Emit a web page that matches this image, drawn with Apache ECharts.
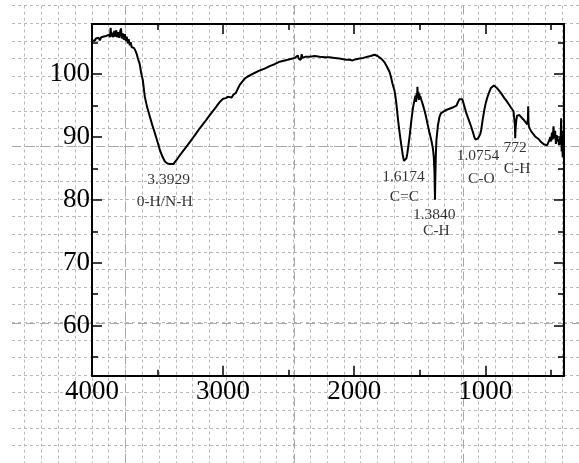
<!DOCTYPE html>
<html><head><meta charset="utf-8">
<script src="https://cdn.jsdelivr.net/npm/echarts@6/dist/echarts.min.js"></script>
<style>html,body{margin:0;padding:0;background:#fff}#c{width:579px;height:463px}</style>
</head><body><div id="c"></div>
<script>
// ---- data ----
const wavenumbers = [4000,3990,3980,3970,3960,3950,3940,3930,3920,3910,3900,3890,3880,3870,3862,3858,3853,3845,3838,3830,3823,3815,3808,3800,3793,3785,3779,3773,3765,3758,3750,3742,3735,3727,3720,3712,3705,3697,3690,3680,3670,3660,3650,3640,3635,3625,3612,3597,3580,3558,3540,3520,3500,3482,3463,3444,3425,3406,3393,3380,3368,3350,3330,3290,3254,3215,3178,3140,3102,3065,3025,3000,2980,2964,2950,2934,2920,2904,2890,2873,2855,2835,2815,2797,2760,2721,2683,2645,2607,2568,2530,2492,2470,2454,2440,2431,2424,2416,2408,2401,2393,2385,2370,2340,2300,2264,2225,2188,2150,2112,2085,2058,2035,2013,1985,1959,1930,1898,1875,1860,1845,1837,1822,1807,1790,1769,1750,1731,1720,1708,1693,1685,1678,1670,1663,1652,1640,1630,1621,1617,1610,1602,1595,1587,1575,1564,1556,1549,1540,1533,1528,1524,1520,1518,1515,1511,1507,1503,1499,1496,1488,1477,1465,1453,1442,1427,1412,1400,1393,1388,1384,1381,1377,1373,1362,1350,1338,1327,1300,1274,1250,1236,1220,1210,1198,1190,1183,1175,1168,1157,1145,1126,1107,1095,1084,1075,1065,1055,1046,1038,1031,1020,1008,997,985,975,970,958,947,935,925,916,900,893,880,871,855,840,817,805,795,785,779,775,772,769,764,758,753,740,726,710,695,680,675,673,671,668,660,650,635,620,605,590,575,566,550,538,528,520,512,505,498,492,486,480,474,468,462,456,450,444,438,432,426,422,418,414,410,406,402,400];
const transmittance = [105.4,105.6,105.3,105.7,105.5,105.8,105.4,105.9,105.6,106.0,105.7,106.1,105.8,106.3,105.9,107.4,106.0,106.6,105.9,106.9,106.0,107.0,105.9,106.7,105.8,106.8,107.3,105.7,106.5,105.5,106.4,105.3,106.0,104.9,105.6,104.6,105.1,104.3,104.6,104.2,103.8,103.3,102.5,101.9,101.5,100.2,99.0,96.4,94.8,93.2,91.9,90.6,89.2,87.9,86.9,86.1,85.8,85.7,85.5,85.7,86.0,86.5,87.1,88.2,89.2,90.3,91.4,92.4,93.5,94.5,95.6,96.1,96.2,96.4,96.2,96.3,96.8,97.0,97.6,98.3,98.8,99.3,99.6,99.8,100.2,100.6,100.9,101.3,101.6,102.0,102.2,102.4,102.5,102.6,102.4,103.0,102.5,102.7,102.3,103.2,102.6,102.9,102.8,102.8,102.9,102.8,102.7,102.7,102.6,102.5,102.4,102.3,102.3,102.2,102.4,102.5,102.6,102.8,102.9,103.0,103.1,103.0,102.9,102.7,102.4,101.9,101.2,100.4,99.6,98.5,97.4,96.4,95.2,93.6,92.2,90.4,88.6,87.2,86.2,85.9,86.1,86.6,87.4,88.6,90.6,92.7,94.0,95.0,95.9,96.6,95.6,97.0,96.2,98.0,96.4,97.2,95.9,96.9,96.0,96.5,95.9,95.2,94.3,93.3,92.2,90.8,89.5,88.2,86.8,84.5,80.0,84.0,87.5,89.5,91.8,93.2,93.8,94.0,94.3,94.5,94.7,94.8,95.0,95.5,96.0,96.2,96.3,96.0,95.5,94.7,93.8,92.7,91.6,90.8,90.0,89.6,89.6,89.8,90.0,90.5,91.2,92.8,94.3,95.4,96.3,96.9,97.2,97.8,98.1,98.2,98.0,97.9,97.5,97.4,97.0,96.7,96.2,95.8,95.1,94.7,94.4,94.1,93.9,92.0,89.8,91.5,92.6,93.4,93.7,93.5,93.2,92.8,92.4,92.0,93.0,94.9,92.5,91.7,91.3,90.9,90.5,90.1,90.0,89.6,89.2,89.0,88.8,88.6,88.7,89.0,89.5,90.0,89.3,90.7,89.6,91.7,89.8,91.0,88.9,90.3,89.3,89.7,88.7,89.9,88.8,93.0,87.7,91.0,86.8,89.6,88.1,88.6];

const xRange = [400, 4000];
const yRange = [52, 108];
const xTickLabels = [1000, 2000, 3000, 4000];
const xMinorTicks = [500, 1500, 2500, 3500];
const yTickLabels = [60, 70, 80, 90, 100];
const yMinorTicks = [55, 65, 75, 85, 95, 105];

const annotationText = ['3.3929', '0-H/N-H', '1.6174', 'C=C', '1.3840', 'C-H', '1.0754', 'C-O', '772', 'C-H'];
const annotationX    = [3416, 3446, 1624, 1617, 1390, 1373, 1056, 1031, 773, 758];
const annotationY    = [83.15, 79.7, 83.6, 80.4, 77.6, 75.0, 87.0, 83.4, 88.2, 84.85];

// ---- styles ----
const serif = '"Liberation Serif","Times New Roman",serif';
const majorLen = 10, minorLen = 6;
const tickStyle = {color: '#000', width: 1.5};
const minorPaper = {color: '#b8b8b8', width: 1, type: [3, 3]};
const majorPaper = {color: '#a8a8a8', width: 1, type: [9, 5]};

const chart = echarts.init(document.getElementById('c'), null, {renderer: 'canvas'});

function mainX(extra) {
  return Object.assign({
    type: 'value', gridIndex: 0, min: xRange[0], max: xRange[1], inverse: true,
    splitLine: {show: false}, axisLabel: {show: false},
    axisLine: {show: false}
  }, extra);
}
function mainY(extra) {
  return Object.assign({
    type: 'value', gridIndex: 0, min: yRange[0], max: yRange[1],
    splitLine: {show: false}, axisLabel: {show: false},
    axisLine: {show: false}
  }, extra);
}
function hidden(gi) { return {type: 'value', gridIndex: gi, show: false, min: 0, max: 1}; }

const option = {
  backgroundColor: '#fff',
  animation: false,
  grid: [
    {left: 92, top: 24, width: 472, height: 351.7},          // plot
    {left: 7.9, top: 5.6, width: 573.6, bottom: 0},           // paper: minor verticals
    {left: 12, top: 5.6, right: 0, height: 458.4},            // paper: minor horizontals
    {left: 125.7, top: 5.6, width: 337.6, bottom: 0},         // paper: major verticals
    {left: 12, top: 146.7, right: 0, height: 176.3}           // paper: major horizontals
  ],
  xAxis: [
    mainX({position: 'bottom', axisLine: {show: true, lineStyle: {color: '#000', width: 2}},
      axisTick: {show: true, inside: true, length: majorLen, lineStyle: tickStyle, customValues: xTickLabels},
      axisLabel: {show: true, customValues: xTickLabels, margin: 3, color: '#000', fontFamily: serif, fontSize: 27,
        formatter: v => String(v)}}),
    mainX({position: 'bottom', axisTick: {show: true, inside: true, length: minorLen, lineStyle: tickStyle, customValues: xMinorTicks}}),
    mainX({position: 'top', axisLine: {show: true, lineStyle: {color: '#000', width: 2}},
      axisTick: {show: true, inside: true, length: majorLen, lineStyle: tickStyle, customValues: xTickLabels}}),
    mainX({position: 'top', axisTick: {show: true, inside: true, length: minorLen, lineStyle: tickStyle, customValues: xMinorTicks}}),
    {type: 'value', gridIndex: 1, min: 0, max: 34, interval: 1, axisLine: {show: false}, axisTick: {show: false}, axisLabel: {show: false},
      splitLine: {show: true, showMinLine: false, lineStyle: minorPaper}},
    hidden(2),
    {type: 'value', gridIndex: 3, min: 0, max: 2, interval: 1, axisLine: {show: false}, axisTick: {show: false}, axisLabel: {show: false},
      splitLine: {show: true, lineStyle: majorPaper}},
    hidden(4)
  ],
  yAxis: [
    mainY({position: 'left', axisLine: {show: true, lineStyle: {color: '#000', width: 2}},
      axisTick: {show: true, inside: true, length: majorLen, lineStyle: tickStyle, customValues: yTickLabels},
      axisLabel: {show: true, customValues: yTickLabels, margin: 2, color: '#000', fontFamily: serif, fontSize: 27,
        formatter: v => String(v)}}),
    mainY({position: 'left', axisTick: {show: true, inside: true, length: minorLen, lineStyle: tickStyle, customValues: yMinorTicks}}),
    mainY({position: 'right', axisLine: {show: true, lineStyle: {color: '#000', width: 2}},
      axisTick: {show: true, inside: true, length: majorLen, lineStyle: tickStyle, customValues: yTickLabels}}),
    mainY({position: 'right', axisTick: {show: true, inside: true, length: minorLen, lineStyle: tickStyle, customValues: yMinorTicks}}),
    hidden(1),
    {type: 'value', gridIndex: 2, min: 0, max: 26, interval: 1, inverse: true, axisLine: {show: false}, axisTick: {show: false}, axisLabel: {show: false},
      splitLine: {show: true, lineStyle: minorPaper}},
    hidden(3),
    {type: 'value', gridIndex: 4, min: 0, max: 1, interval: 1, axisLine: {show: false}, axisTick: {show: false}, axisLabel: {show: false},
      splitLine: {show: true, lineStyle: majorPaper}}
  ],
  series: [
    {
      type: 'line', xAxisIndex: 0, yAxisIndex: 0,
      data: wavenumbers.map((w, i) => [w, transmittance[i]]),
      showSymbol: false, symbol: 'none',
      lineStyle: {color: '#000', width: 2},
      z: 5
    },
    {
      type: 'scatter', xAxisIndex: 0, yAxisIndex: 0,
      data: annotationText.map((t, i) => [annotationX[i], annotationY[i], t]),
      symbolSize: 1, itemStyle: {color: 'rgba(0,0,0,0)'},
      label: {show: true, position: 'inside', formatter: p => p.data[2],
        color: '#000', fontFamily: serif, fontSize: 15.5},
      z: 6
    }
  ]
};
chart.setOption(option);
</script>
</body></html>
